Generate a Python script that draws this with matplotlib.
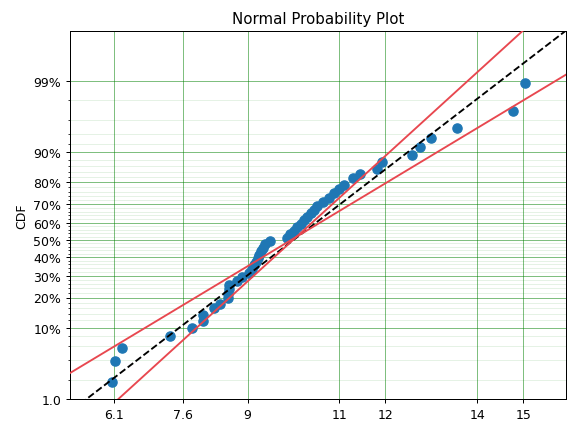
import numpy as np
import matplotlib
matplotlib.use("Agg")
import matplotlib.pyplot as plt
from statistics import NormalDist

# data values
x_vals = [6.04, 6.12, 6.27, 7.32, 7.80, 8.04, 8.04, 8.27, 8.40, 8.58,
          8.58, 8.59, 8.60, 8.77, 8.88, 9.03, 9.10, 9.14, 9.18, 9.22,
          9.25, 9.29, 9.34, 9.39, 9.49, 9.86, 9.92, 10.00, 10.08, 10.16,
          10.23, 10.30, 10.38, 10.45, 10.51, 10.64, 10.77, 10.88, 10.99, 11.10,
          11.29, 11.45, 11.82, 11.93, 12.58, 12.76, 12.99, 13.55, 14.78, 15.04]
cdf_pct = [1.91, 3.88, 5.77, 7.94, 9.82, 11.7, 13.76, 16.0, 17.6, 19.6,
           21.6, 23.5, 25.5, 27.5, 29.5, 31.5, 33.5, 35.5, 37.5, 39.5,
           41.5, 43.5, 45.5, 47.4, 49.4, 51.4, 53.4, 55.4, 57.3, 59.3,
           61.3, 63.3, 65.3, 67.2, 69.2, 71.2, 73.2, 75.2, 77.1, 79.1,
           81.6, 83.2, 85.2, 87.2, 89.2, 91.2, 93.15, 95.0, 97.0, 98.9]

# fitted normal and its bounds (mu, sigma)
fit_params = (10.0, 1.936)
upper_params = (9.95, 2.473)
lower_params = (9.99, 1.634)

x_ticks = [6.1, 7.6, 9, 11, 12, 14, 15]
x_ticklabels = ["6.1", "7.6", "9", "11", "12", "14", "15"]
y_major = [1, 10, 20, 30, 40, 50, 60, 70, 80, 90, 99]
y_major_labels = ["1.0", "10%", "20%", "30%", "40%", "50%", "60%", "70%", "80%", "90%", "99%"]
y_minor = [2, 4, 6, 8, 12, 14, 16, 18, 22, 24, 26, 28, 32, 34, 36, 38,
           42, 44, 46, 48, 52, 54, 56, 58, 62, 64, 66, 68, 72, 74, 76, 78,
           82, 84, 86, 88, 92, 94, 96, 98]

nd = NormalDist()


def to_z(pct):
    return np.array([nd.inv_cdf(p / 100.0) for p in pct])


fig = plt.figure(figsize=(6.4, 4.822), dpi=90)
ax = fig.add_axes([0.1215, 0.0783, 0.8611, 0.8486])

z_lo, z_hi = nd.inv_cdf(0.01), 3.06
xlim = (5.136, 15.929)

ax.scatter(x_vals, to_z(cdf_pct), s=55, color="#1f77b4", zorder=2)

zz = np.array([z_lo - 1, z_hi + 1])
for (mu, sig), style in [(fit_params, dict(color="black", ls="--", lw=1.5)),
                         (upper_params, dict(color="#e8474f", lw=1.5)),
                         (lower_params, dict(color="#e8474f", lw=1.5))]:
    ax.plot(mu + sig * zz, zz, zorder=3, **style)

ax.set_xlim(*xlim)
ax.set_ylim(z_lo, z_hi)
ax.set_xticks(x_ticks)
ax.set_xticklabels(x_ticklabels)
ax.set_yticks(to_z(y_major))
ax.set_yticklabels(y_major_labels)
ax.set_yticks(to_z(y_minor), minor=True)

ax.grid(which="major", color="g", alpha=0.5, lw=0.8)
ax.grid(which="minor", axis="y", color="g", alpha=0.1, lw=0.8)
ax.set_axisbelow(True)

ax.set_title("Normal Probability Plot", fontsize=12)
ax.set_ylabel("CDF")

fig.savefig("out.png", dpi=90)
